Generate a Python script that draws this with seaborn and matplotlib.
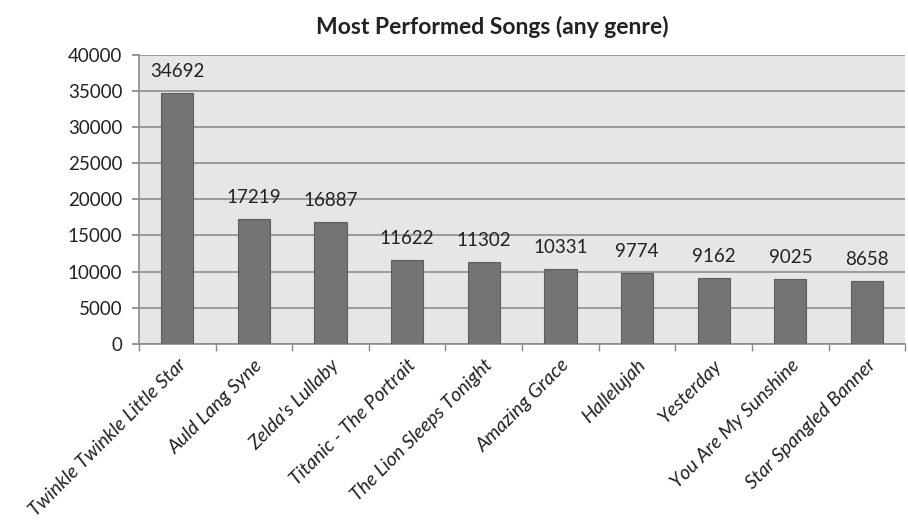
import pandas as pd
import matplotlib.pyplot as plt
import seaborn as sns

songs = ["Twinkle Twinkle Little Star", "Auld Lang Syne", "Zelda's Lullaby",
         "Titanic - The Portrait", "The Lion Sleeps Tonight", "Amazing Grace",
         "Hallelujah", "Yesterday", "You Are My Sunshine", "Star Spangled Banner"]
performances = [34692, 17219, 16887, 11622, 11302, 10331, 9774, 9162, 9025, 8658]
y_ticks = [0, 5000, 10000, 15000, 20000, 25000, 30000, 35000, 40000]

df = pd.DataFrame({"Song": songs, "Performances": performances})

sns.set_theme(style="whitegrid")
plt.rcParams["font.family"] = ["Lato", "DejaVu Sans"]

fig = plt.figure(figsize=(9.08, 5.21), dpi=100)
ax = fig.add_axes([0.153, 0.340, 0.844, 0.555])
ax.set_facecolor("#e6e6e6")

sns.barplot(data=df, x="Song", y="Performances", color="#747477",
            width=0.42, saturation=1, ax=ax, zorder=3,
            edgecolor="#5e5e60", linewidth=0.8)

for i, v in enumerate(performances):
    ax.text(i, v + 1800, str(v), ha="center", va="bottom", fontsize=13.5, color="#222222")

ax.set_ylim(0, 40000)
ax.set_xlim(-0.5, len(songs) - 0.5)
ax.set_yticks(y_ticks)
ax.set_yticklabels([str(t) for t in y_ticks], fontsize=13.5, color="#222222")
ax.set_xticks(range(len(songs)))
ax.set_xticklabels(songs, rotation=45, ha="right", rotation_mode="anchor",
                   fontsize=14, style="italic", color="#222222")
ax.tick_params(axis="x", length=0, pad=9)
ax.tick_params(axis="y", length=5, color="#888888", left=True, pad=7)
# category boundary ticks
ax.set_xticks([i + 0.5 for i in range(-1, len(songs))], minor=True)
ax.tick_params(axis="x", which="minor", length=5, color="#888888", bottom=True)

ax.grid(axis="y", color="#8c8c8c", linewidth=1.2, zorder=0)
ax.grid(axis="x", visible=False)
for side in ["top", "right"]:
    ax.spines[side].set_visible(False)
for side in ["left", "bottom"]:
    ax.spines[side].set_color("#8c8c8c")
    ax.spines[side].set_linewidth(1.2)

ax.set_xlabel("")
ax.set_ylabel("")
fig.text(0.542, 0.935, "Most Performed Songs (any genre)", ha="center",
         fontsize=16.5, fontweight="bold", color="#222222")

fig.savefig("out.png", dpi=100)
plt.close(fig)
